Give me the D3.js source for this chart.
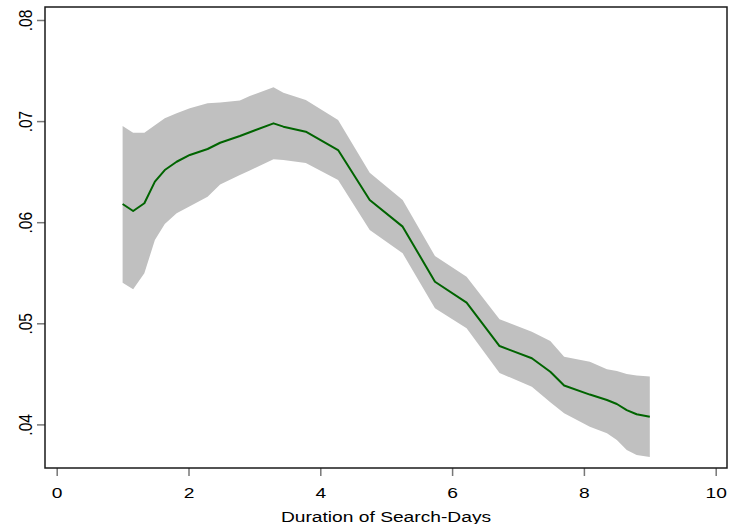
<!DOCTYPE html>
<html>
<head>
<meta charset="utf-8">
<script src="https://cdn.jsdelivr.net/npm/d3@7"></script>
<style>
  html, body { margin: 0; padding: 0; background: #fff; }
  svg { display: block; }
  text { font-family: "Liberation Sans", Arial, Helvetica, sans-serif; fill: #000; }
</style>
</head>
<body>
<svg id="chart" width="729" height="524"></svg>
<script>
// ---- data ----
const duration = [1.00, 1.16, 1.33, 1.49, 1.64, 1.82, 2.02, 2.29, 2.48, 2.78, 2.93, 3.29, 3.44, 3.78,
                  4.27, 4.75, 5.25, 5.74, 6.22, 6.72, 7.21, 7.49, 7.70, 8.09, 8.35, 8.50, 8.65, 8.80, 9.00];
const estimate = [0.06180, 0.06111, 0.06187, 0.06401, 0.06516, 0.06598, 0.06665, 0.06724, 0.06786, 0.06853,
                  0.06890, 0.06978, 0.06945, 0.06895, 0.06714, 0.06220, 0.05956, 0.05411, 0.05204, 0.04775,
                  0.04654, 0.04521, 0.04385, 0.04295, 0.04241, 0.04202, 0.04142, 0.04100, 0.04076];
const upper = [0.06951, 0.06885, 0.06885, 0.06960, 0.07028, 0.07077, 0.07127, 0.07176, 0.07184, 0.07204,
               0.07248, 0.07334, 0.07281, 0.07209, 0.07011, 0.06490, 0.06220, 0.05666, 0.05461, 0.05040,
               0.04917, 0.04825, 0.04670, 0.04620, 0.04545, 0.04528, 0.04498, 0.04484, 0.04474];
const lower = [0.05402, 0.05336, 0.05495, 0.05824, 0.05982, 0.06088, 0.06157, 0.06252, 0.06373, 0.06467,
               0.06511, 0.06622, 0.06615, 0.06586, 0.06417, 0.05923, 0.05692, 0.05148, 0.04951, 0.04508,
               0.04373, 0.04220, 0.04110, 0.03977, 0.03912, 0.03846, 0.03747, 0.03697, 0.03678];
const xTicks = [0, 2, 4, 6, 8, 10];
const yTicks = [0.04, 0.05, 0.06, 0.07, 0.08];
const yTickLabels = [".04", ".05", ".06", ".07", ".08"];
const xTitle = "Duration of Search-Days";

// ---- layout ----
const frame = { left: 45, top: 7, right: 727, bottom: 468 };
const fontSize = 15.5;
const stretch = 1.24; // text in the original is horizontally stretched
const svg = d3.select("#chart");

const x = d3.scaleLinear().domain([0, 10]).range([56.7, 715.7]);
const y = d3.scaleLinear().domain([0.04, 0.08]).range([424.4, 20]);

const rows = duration.map((d, i) => ({ x: d, est: estimate[i], lo: lower[i], hi: upper[i] }));

// confidence band
svg.append("path")
  .datum(rows)
  .attr("fill", "#c0c0c0")
  .attr("stroke", "none")
  .attr("d", d3.area().x(d => x(d.x)).y0(d => y(d.lo)).y1(d => y(d.hi)));

// estimate line
svg.append("path")
  .datum(rows)
  .attr("fill", "none")
  .attr("stroke", "#006400")
  .attr("stroke-width", 2)
  .attr("stroke-linejoin", "round")
  .attr("d", d3.line().x(d => x(d.x)).y(d => y(d.est)));

// x axis
const xAxis = d3.axisBottom(x).tickValues(xTicks).tickFormat(d3.format("d")).tickSize(8).tickPadding(10.5);
const gx = svg.append("g").attr("transform", `translate(0,${frame.bottom})`).call(xAxis);
gx.select(".domain").remove();
gx.selectAll(".tick line").attr("stroke", "#777").attr("stroke-width", 1.5);
gx.selectAll(".tick text")
  .attr("font-size", fontSize)
  .attr("font-family", "Liberation Sans, Arial, sans-serif")
  .attr("fill", "#000")
  .attr("transform", `scale(${stretch},1)`);

// y axis
const yAxis = d3.axisLeft(y).tickValues(yTicks).tickFormat((d, i) => yTickLabels[i]).tickSize(8);
const gy = svg.append("g").attr("transform", `translate(${frame.left},0)`).call(yAxis);
gy.select(".domain").remove();
gy.selectAll(".tick line").attr("stroke", "#777").attr("stroke-width", 1.5);
gy.selectAll(".tick text")
  .attr("font-size", fontSize)
  .attr("font-family", "Liberation Sans, Arial, sans-serif")
  .attr("fill", "#000")
  .attr("text-anchor", "middle")
  .attr("dy", null)
  .attr("x", null)
  .attr("transform", `translate(-13.5,0) scale(${stretch},1) rotate(-90)`);

// frame
svg.append("rect")
  .attr("x", frame.left)
  .attr("y", frame.top)
  .attr("width", frame.right - frame.left)
  .attr("height", frame.bottom - frame.top)
  .attr("fill", "none")
  .attr("stroke", "#1a1a1a")
  .attr("stroke-width", 1.5);

// x title
svg.append("text")
  .attr("transform", `translate(${(frame.left + frame.right) / 2},521.5) scale(${stretch},1)`)
  .attr("text-anchor", "middle")
  .attr("font-size", fontSize)
  .text(xTitle);
</script>
</body>
</html>
